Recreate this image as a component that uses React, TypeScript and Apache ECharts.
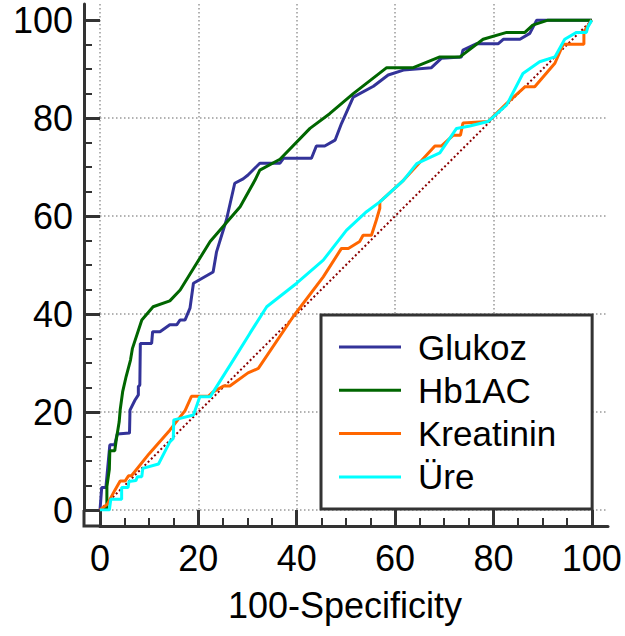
import React, { useEffect, useRef } from "react";
import * as echarts from "echarts";

const FONT = '"Liberation Sans", Arial, Helvetica, sans-serif';
const AXIS_COLOR = "#333333";
const AXIS_MAX = 103.3;

const majorTicks = [0, 20, 40, 60, 80, 100];
const minorTicks = [5, 10, 15, 25, 30, 35, 45, 50, 55, 65, 70, 75, 85, 90, 95];

const seriesNames = ["Glukoz", "Hb1AC", "Kreatinin", "Üre"];
const seriesColors = ["#333399", "#006600", "#ff6600", "#00ffff"];

const glukoz: [number, number][] = [
  [0, 0], [0.35, 4.6], [1.2, 4.6], [2.0, 13.3], [3.0, 13.3], [3.5, 15.5], [6.0, 15.7],
  [6.1, 20.4], [7.1, 22.4], [7.8, 23.5], [7.8, 25.2], [8.1, 25.5], [8.2, 34.0], [10.5, 34.0],
  [10.7, 36.4], [12.2, 36.4], [14.2, 37.8], [15.6, 37.8], [16.3, 38.8], [17.3, 38.8],
  [18.3, 41.2], [19.0, 46.3], [23.0, 48.6], [23.7, 52.7], [25.7, 59.2], [27.4, 66.7],
  [29.1, 67.6], [30.1, 68.4], [32.5, 70.8], [36.6, 70.8], [37.3, 71.8], [43.0, 71.8],
  [44.0, 74.3], [45.7, 74.3], [47.8, 75.5], [49.1, 78.9], [51.5, 84.3], [55.6, 86.5],
  [58.6, 88.8], [61.7, 89.8], [67.4, 90.3], [69.4, 92.2], [73.5, 92.5], [73.8, 93.9],
  [76.6, 95.2], [81.0, 95.2], [82.0, 96.1], [85.4, 96.1], [87.4, 97.3], [88.8, 100], [100, 100],
];

const hb1ac: [number, number][] = [
  [0, 0], [1.4, 0.4], [1.4, 4.8], [1.9, 8.3], [2.0, 12.1], [3.0, 12.1], [3.3, 14.3],
  [3.9, 18.0], [4.1, 20.4], [4.6, 24.1], [5.3, 27.2], [6.2, 30.6], [6.6, 33.0], [8.5, 38.8],
  [10.8, 41.5], [14.2, 42.7], [16.3, 44.9], [19.0, 49.3], [22.4, 54.8], [28.5, 61.9],
  [31.5, 67.3], [32.5, 69.4], [36.6, 71.6], [42.7, 77.9], [46.7, 80.9], [51.5, 85.0],
  [58.3, 90.3], [63.7, 90.3], [69.1, 92.5], [73.2, 92.5], [77.9, 96.1], [82.7, 97.5],
  [86.4, 97.5], [88.0, 99.0], [91.1, 100], [100, 100],
];

const kreatinin: [number, number][] = [
  [0, 0], [1.5, 1.2], [3.0, 4.0], [4.1, 5.9], [5.1, 5.9], [5.8, 7.0], [6.4, 7.0],
  [10.0, 11.5], [14.2, 16.3], [16.3, 19.0], [17.3, 20.3], [18.6, 23.2], [22.0, 23.2],
  [23.0, 24.1], [25.1, 25.3], [26.4, 25.3], [30.1, 28.0], [32.2, 28.9], [39.3, 39.5],
  [45.4, 47.6], [49.1, 53.4], [50.5, 53.4], [52.8, 54.8], [53.5, 56.1], [55.2, 56.1],
  [56.2, 59.2], [56.9, 61.6], [56.9, 62.9], [61.7, 67.3], [68.1, 74.3], [69.4, 74.3],
  [71.8, 76.5], [73.3, 76.5], [73.8, 79.0], [78.9, 79.3], [82.7, 83.0], [86.4, 86.4],
  [88.4, 86.4], [92.5, 91.2], [94.2, 95.1], [98.4, 95.1], [98.4, 97.6], [100, 100],
];

const ure: [number, number][] = [
  [0, 0], [1.9, 0], [2.2, 2.2], [4.4, 2.2], [4.4, 4.6], [5.7, 4.6], [5.9, 5.8], [7.3, 6.0],
  [7.6, 6.8], [8.5, 6.8], [8.7, 8.5], [11.9, 9.4], [14.2, 13.9], [14.9, 14.6], [15.0, 18.4],
  [16.3, 18.7], [19.0, 19.4], [20.3, 23.1], [22.4, 23.1], [27.1, 30.6], [30.5, 36.1],
  [33.9, 41.5], [40.0, 46.3], [45.4, 51.0], [50.1, 57.1], [54.2, 60.9], [56.9, 62.9],
  [61.7, 67.3], [64.4, 70.7], [69.1, 72.9], [72.5, 77.9], [75.2, 78.4], [78.9, 79.3],
  [82.7, 82.7], [86.0, 89.1], [89.4, 91.5], [92.5, 92.5], [94.5, 96.1], [96.9, 97.5],
  [98.9, 97.5], [99.2, 98.6], [100, 100],
];

const diagonal: [number, number][] = [[0, 0], [100, 100]];

const curves = [glukoz, hb1ac, kreatinin, ure];

const GRID_BOX = { left: 100, right: 17, top: 4, bottom: 126 };

function mainAxis(isX: boolean) {
  const ax: any = {
    type: "value",
    gridIndex: 0,
    min: 0,
    max: AXIS_MAX,
    interval: 20,
    position: isX ? "bottom" : "left",
    offset: 16,
    axisLine: { show: true, onZero: false, lineStyle: { color: AXIS_COLOR, width: 3 } },
    axisTick: {
      show: true,
      inside: true,
      length: 16,
      customValues: majorTicks,
      lineStyle: { color: AXIS_COLOR, width: 3 },
    },
    axisLabel: {
      customValues: majorTicks,
      fontSize: 36,
      color: "#000",
      fontFamily: FONT,
      margin: isX ? 14 : 11,
    },
    splitLine: {
      show: true,
      showMaxLine: false,
      lineStyle: { color: "#999", width: 1.5, type: [1.5, 2.5] },
    },
  };
  if (isX) {
    ax.name = "100-Specificity";
    ax.nameLocation = "middle";
    ax.nameGap = 61;
    ax.nameTextStyle = {
      fontSize: 36,
      color: "#000",
      fontFamily: FONT,
      padding: [0, 18, 0, 0],
    };
  }
  return ax;
}

function minorAxis(isX: boolean) {
  return {
    type: "value",
    gridIndex: 1,
    min: 0,
    max: AXIS_MAX,
    interval: 20,
    position: isX ? "bottom" : "left",
    offset: 16,
    axisLine: { show: false, onZero: false },
    axisTick: {
      show: true,
      inside: true,
      length: 8,
      customValues: minorTicks,
      lineStyle: { color: AXIS_COLOR, width: 2 },
    },
    axisLabel: { show: false },
    splitLine: { show: false },
  };
}

export default function App() {
  const ref = useRef<HTMLDivElement>(null);
  useEffect(() => {
    if (!ref.current) return;
    const chart = echarts.init(ref.current, null, { renderer: "svg" });
    const series: any[] = [
      {
        name: "Diagonal",
        type: "line",
        data: diagonal,
        symbol: "none",
        silent: true,
        lineStyle: { color: "#8b0000", width: 2, type: [2, 2.5] },
        z: 1,
      },
      ...seriesNames.map((n, i) => ({
        name: n,
        type: "line",
        data: curves[i],
        symbol: "none",
        color: seriesColors[i],
        lineStyle: { color: seriesColors[i], width: 3 },
        z: 2,
      })),
    ];
    chart.setOption({
      animation: false,
      backgroundColor: "#fff",
      textStyle: { fontFamily: FONT },
      grid: [
        { ...GRID_BOX, containLabel: false, outerBoundsMode: "none" },
        { ...GRID_BOX, containLabel: false, outerBoundsMode: "none" },
      ],
      xAxis: [mainAxis(true), minorAxis(true)],
      yAxis: [mainAxis(false), minorAxis(false)],
      legend: {
        data: seriesNames,
        orient: "vertical",
        left: 321,
        top: 315,
        padding: [14.5, 36, 14.5, 18],
        itemGap: 8.3,
        itemWidth: 62,
        itemHeight: 3,
        icon: "rect",
        backgroundColor: "#fff",
        borderColor: AXIS_COLOR,
        borderWidth: 3,
        borderRadius: 0,
        selectedMode: false,
        z: 10,
        textStyle: {
          fontSize: 35,
          lineHeight: 35,
          color: "#000",
          fontFamily: FONT,
          padding: [0, 0, 0, 12],
        },
      },
      graphic: [
        {
          type: "polyline",
          shape: { points: [[84, 510], [84, 526], [100, 526]] },
          style: { stroke: AXIS_COLOR, lineWidth: 3, fill: null },
          z: 10,
          silent: true,
        },
      ],
      series,
    });
    return () => chart.dispose();
  }, []);
  return (
    <div
      ref={ref}
      style={{ position: "fixed", left: 0, top: 0, width: 625, height: 636 }}
    />
  );
}
